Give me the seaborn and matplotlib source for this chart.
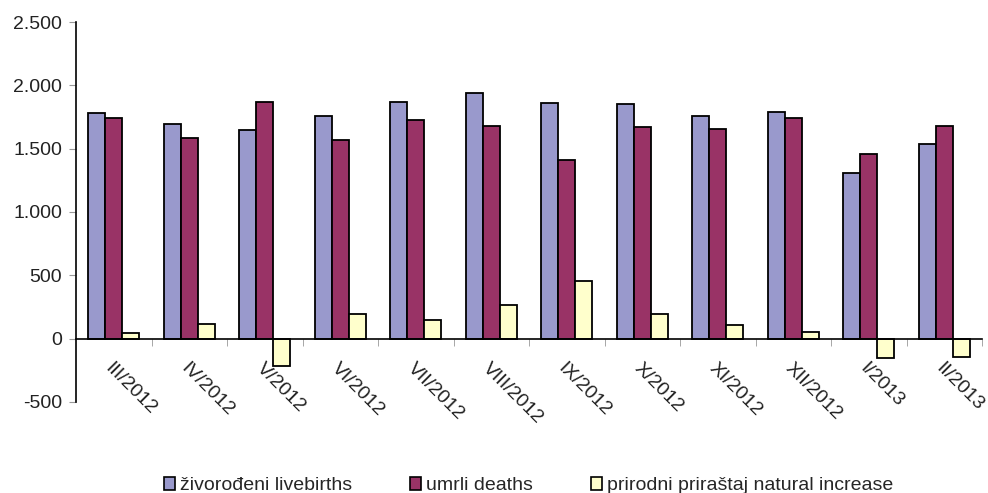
import matplotlib.pyplot as plt
import matplotlib.ticker as mticker
import pandas as pd
import seaborn as sns

months = ['III/2012', 'IV/2012', 'V/2012', 'VI/2012', 'VII/2012', 'VIII/2012',
          'IX/2012', 'X/2012', 'XI/2012', 'XII/2012', 'I/2013', 'II/2013']
livebirths = [1780, 1695, 1648, 1761, 1869, 1940, 1864, 1856, 1756, 1790, 1306, 1535]
deaths = [1740, 1583, 1869, 1569, 1725, 1680, 1412, 1672, 1659, 1740, 1459, 1680]
natural = [42, 116, -221, 197, 150, 263, 452, 192, 105, 53, -150, -145]
series = ['živorođeni livebirths', 'umrli deaths', 'prirodni priraštaj natural increase']
colors = ['#9999CC', '#993366', '#FFFFCC']

# long-form table for seaborn
df = pd.DataFrame({
    'month': months * 3,
    'value': livebirths + deaths + natural,
    'series': [series[0]] * 12 + [series[1]] * 12 + [series[2]] * 12,
})

sns.set_style('white')
plt.rcParams['font.family'] = ['Liberation Sans', 'DejaVu Sans']

fig, ax = plt.subplots(figsize=(9.88, 4.93), dpi=100)
fig.subplots_adjust(left=0.077, right=0.994, top=0.955, bottom=0.185)

sns.barplot(data=df, x='month', y='value', hue='series', palette=colors,
            edgecolor='black', linewidth=1.3, width=0.68, saturation=1, ax=ax)

ax.set_ylim(-500, 2500)
ax.set_xlim(-0.5, 11.5)
ax.yaxis.set_major_locator(mticker.MultipleLocator(500))
ax.yaxis.set_major_formatter(mticker.FuncFormatter(lambda v, p: f'{int(v):,}'.replace(',', '.')))
ax.set_xlabel('')
ax.set_ylabel('')

for s in ['top', 'right']:
    ax.spines[s].set_visible(False)
ax.spines['left'].set_color('black')
ax.spines['left'].set_linewidth(1.2)
ax.spines['bottom'].set_position(('data', 0))
ax.spines['bottom'].set_color('black')
ax.spines['bottom'].set_linewidth(1.2)

ax.tick_params(axis='y', left=True, length=5, color='#999999', labelsize=14,
               labelcolor='#222222', pad=5)
ax.set_xticks(range(len(months)))
ax.set_xticklabels(months, rotation=-45, ha='left', rotation_mode='anchor')
ax.tick_params(axis='x', which='major', bottom=False, length=0, pad=15,
               labelsize=14, labelcolor='#222222')
ax.set_xticks([i + 0.5 for i in range(len(months))], minor=True)
ax.tick_params(axis='x', which='minor', bottom=True, length=5, color='#999999')

ax.get_legend().remove()
handles = [plt.Rectangle((0, 0), 1, 1, facecolor=c, edgecolor='black', linewidth=1.2) for c in colors]
fig.legend(handles, series, loc='lower center', bbox_to_anchor=(0.535, -0.038), ncol=3,
           frameon=False, fontsize=14, handlelength=0.55, handleheight=0.6,
           handletextpad=0.25, columnspacing=3.0)

fig.savefig('out.png', dpi=100)
